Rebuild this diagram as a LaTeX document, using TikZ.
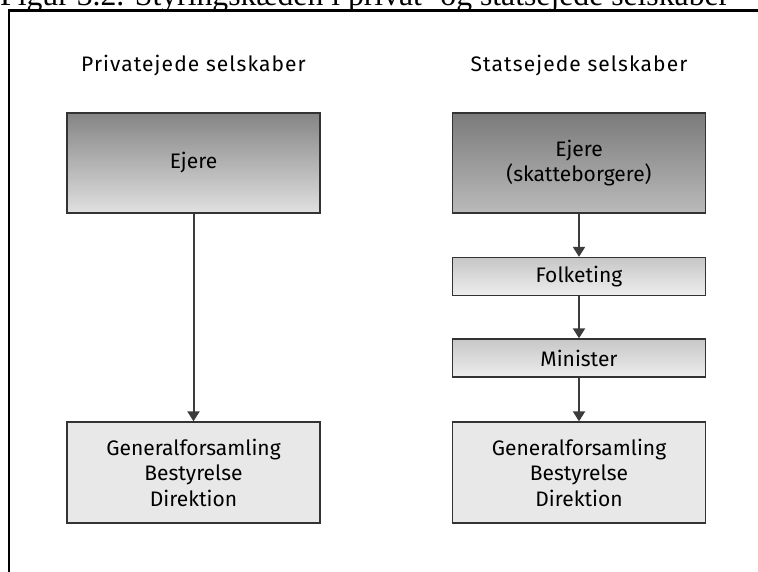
\documentclass[tikz,border=0pt]{standalone}
\usepackage{fontspec}
\setmainfont{Fira Sans}
\newfontfamily\headfont[LetterSpace=5.2]{Fira Sans}
\newfontfamily\titlefont{Liberation Serif}
\usetikzlibrary{arrows.meta}
\definecolor{edgegray}{HTML}{333333}
\definecolor{arrowgray}{HTML}{3C3C3C}
\tikzset{
  boxbase/.style={draw=edgegray, line width=1.3pt, minimum width=253pt, align=center, inner sep=0pt,
    font=\fontsize{21}{25.5}\selectfont, text=black},
  ownerbox/.style={boxbase, minimum height=100pt, top color=black!48, bottom color=black!12},
  ownerboxB/.style={boxbase, minimum height=100pt, top color=black!52, bottom color=black!27},
  midbox/.style={boxbase, minimum height=38pt, top color=black!22, bottom color=black!7},
  govbox/.style={boxbase, minimum height=101pt, fill=black!9},
  heading/.style={anchor=base, font=\headfont\fontsize{21}{25}\selectfont, text=black},
  flow/.style={draw=arrowgray, line width=2pt, -{Triangle[width=12pt,length=10pt]}}
}
\begin{document}
\begin{tikzpicture}[x=1pt,y=-1pt]
\useasboundingbox (0,0) rectangle (758,572);
% partially visible title (cut off by the page edge)
\node[anchor=base west, inner sep=0pt, font=\titlefont\fontsize{31.7}{37}\selectfont] (title) at (0,5.5) {Figur 3.2. Styringskæden i privat- og statsejede selskaber};
% frame
\draw[line width=2.5pt] (9,590) -- (9,10.5) -- (780,10.5);
% headings
\node[heading] (hL) at (193.5,72) {Privatejede selskaber};
\node[heading] (hR) at (579,72) {Statsejede selskaber};
% left column
\node[ownerbox] (ejL) at (193.5,163) {Ejere};
\node[govbox] (genL) at (193.5,472.5) {Generalforsamling\\Bestyrelse\\Direktion};
% right column
\node[ownerboxB] (ejR) at (579,163) {Ejere\\(skatteborgere)};
\node[midbox] (folk) at (579,276.5) {Folketing};
\node[midbox] (min) at (579,358) {Minister};
\node[govbox] (genR) at (579,472.5) {Generalforsamling\\Bestyrelse\\Direktion};
% connectors
\draw[flow] (ejL.south) -- (genL.north);
\draw[flow] (ejR.south) -- (folk.north);
\draw[flow] (folk.south) -- (min.north);
\draw[flow] (min.south) -- (genR.north);
\end{tikzpicture}
\end{document}
